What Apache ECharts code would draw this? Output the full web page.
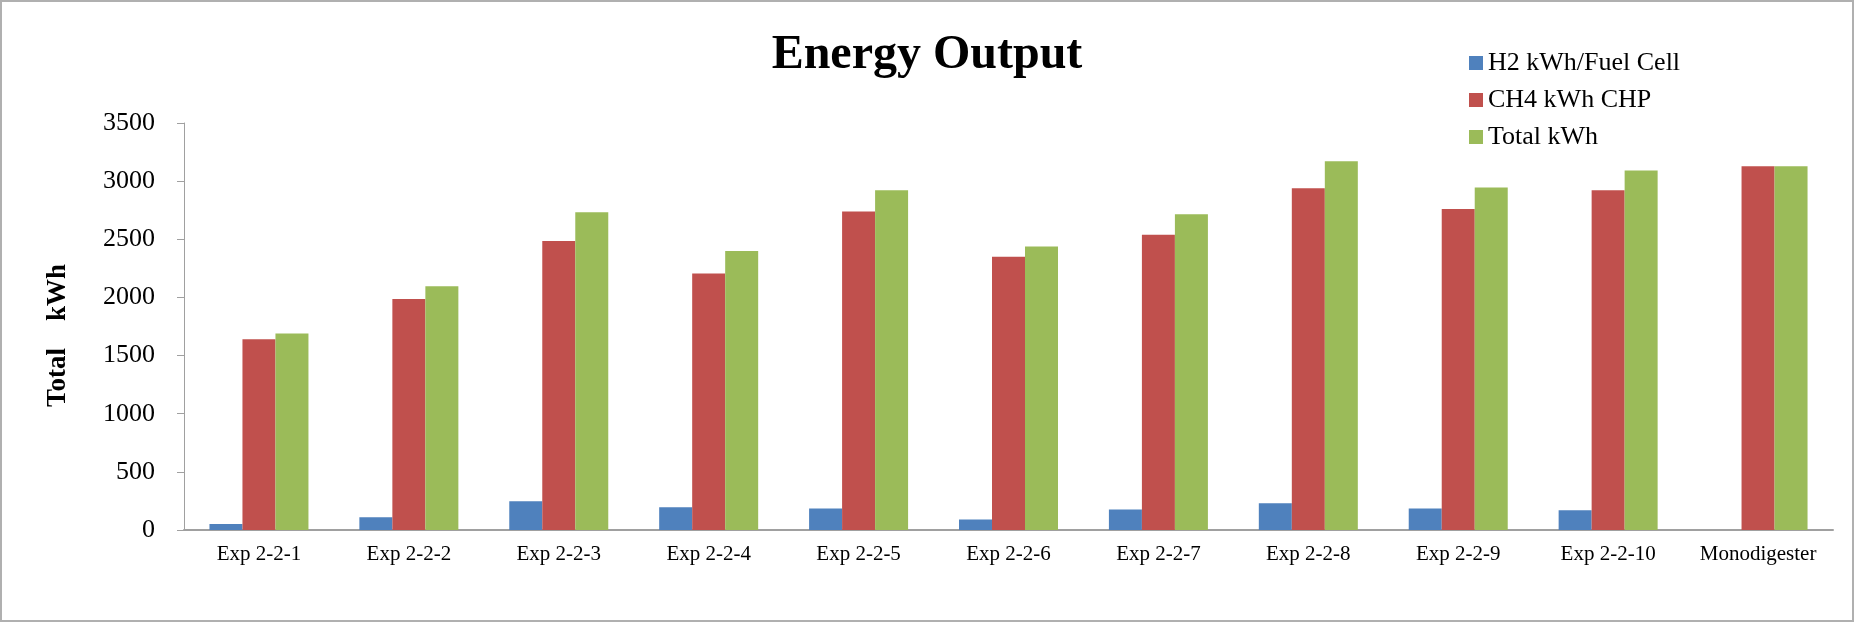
<!DOCTYPE html>
<html>
<head>
<meta charset="utf-8">
<title>Energy Output</title>
<script src="https://cdn.jsdelivr.net/npm/echarts@6/dist/echarts.min.js"></script>
<style>
  html, body { margin: 0; padding: 0; background: #fff; }
  #chart { width: 1854px; height: 622px; }
</style>
</head>
<body>
<div id="chart"></div>
<script>
// categories and series
var categories = ['Exp 2-2-1', 'Exp 2-2-2', 'Exp 2-2-3', 'Exp 2-2-4', 'Exp 2-2-5', 'Exp 2-2-6',
  'Exp 2-2-7', 'Exp 2-2-8', 'Exp 2-2-9', 'Exp 2-2-10', 'Monodigester']
var h2Fuel = [52, 110, 248, 196, 185, 90, 176, 230, 185, 170, 0]
var ch4Chp = [1640, 1987, 2486, 2205, 2738, 2350, 2540, 2939, 2761, 2922, 3128]
var totalKwh = [1690, 2097, 2733, 2400, 2922, 2437, 2716, 3170, 2945, 3091, 3128]
var seriesNames = ['H2 kWh/Fuel Cell', 'CH4 kWh CHP', 'Total kWh']
var colors = ['#4f81bd', '#c0504d', '#9bbb59']

var serif = '"Liberation Serif", "Times New Roman", serif'

var myChart = echarts.init(document.getElementById('chart'))

function bar(name, data, color) {
  return {
    name: name,
    type: 'bar',
    data: data,
    barWidth: 33,
    barGap: '0%',
    itemStyle: { color: color },
    animation: false
  }
}

myChart.setOption({
  backgroundColor: '#fff',
  title: {
    text: 'Energy Output',
    left: 'center',
    top: 27,
    textStyle: { fontFamily: serif, fontSize: 48, fontWeight: 'bold', color: '#000' }
  },
  legend: {
    orient: 'vertical',
    left: 1464,
    top: 45,
    itemWidth: 14,
    itemHeight: 14,
    itemGap: 11,
    icon: 'rect',
    data: seriesNames,
    textStyle: { fontFamily: serif, fontSize: 26, lineHeight: 26, color: '#000' }
  },
  grid: { left: 184, right: 21, top: 123, bottom: 92, containLabel: false },
  xAxis: {
    type: 'category',
    data: categories,
    axisLine: { lineStyle: { color: '#a0a0a0', width: 2 } },
    axisTick: { show: false },
    axisLabel: { fontFamily: serif, fontSize: 21, color: '#000', margin: 14, interval: 0 }
  },
  yAxis: {
    type: 'value',
    min: 0,
    max: 3500,
    interval: 500,
    name: 'Total    kWh',
    nameLocation: 'middle',
    nameGap: 112,
    nameTextStyle: { fontFamily: serif, fontSize: 27, fontWeight: 'bold', color: '#000', padding: [0, 18, 0, 0] },
    axisLine: { show: true, lineStyle: { color: '#a0a0a0', width: 1 } },
    axisTick: { show: true, length: 7, lineStyle: { color: '#a0a0a0' } },
    splitLine: { show: false },
    axisLabel: {
      fontFamily: serif, fontSize: 26, color: '#000', margin: 29,
      formatter: function (v) { return String(v) }
    }
  },
  graphic: [{
    type: 'rect',
    shape: { x: 1, y: 1, width: 1852, height: 620 },
    style: { fill: 'none', stroke: '#b0b0b0', lineWidth: 2 },
    silent: true
  }],
  series: [
    bar(seriesNames[0], h2Fuel, colors[0]),
    bar(seriesNames[1], ch4Chp, colors[1]),
    bar(seriesNames[2], totalKwh, colors[2])
  ]
})
</script>
</body>
</html>
